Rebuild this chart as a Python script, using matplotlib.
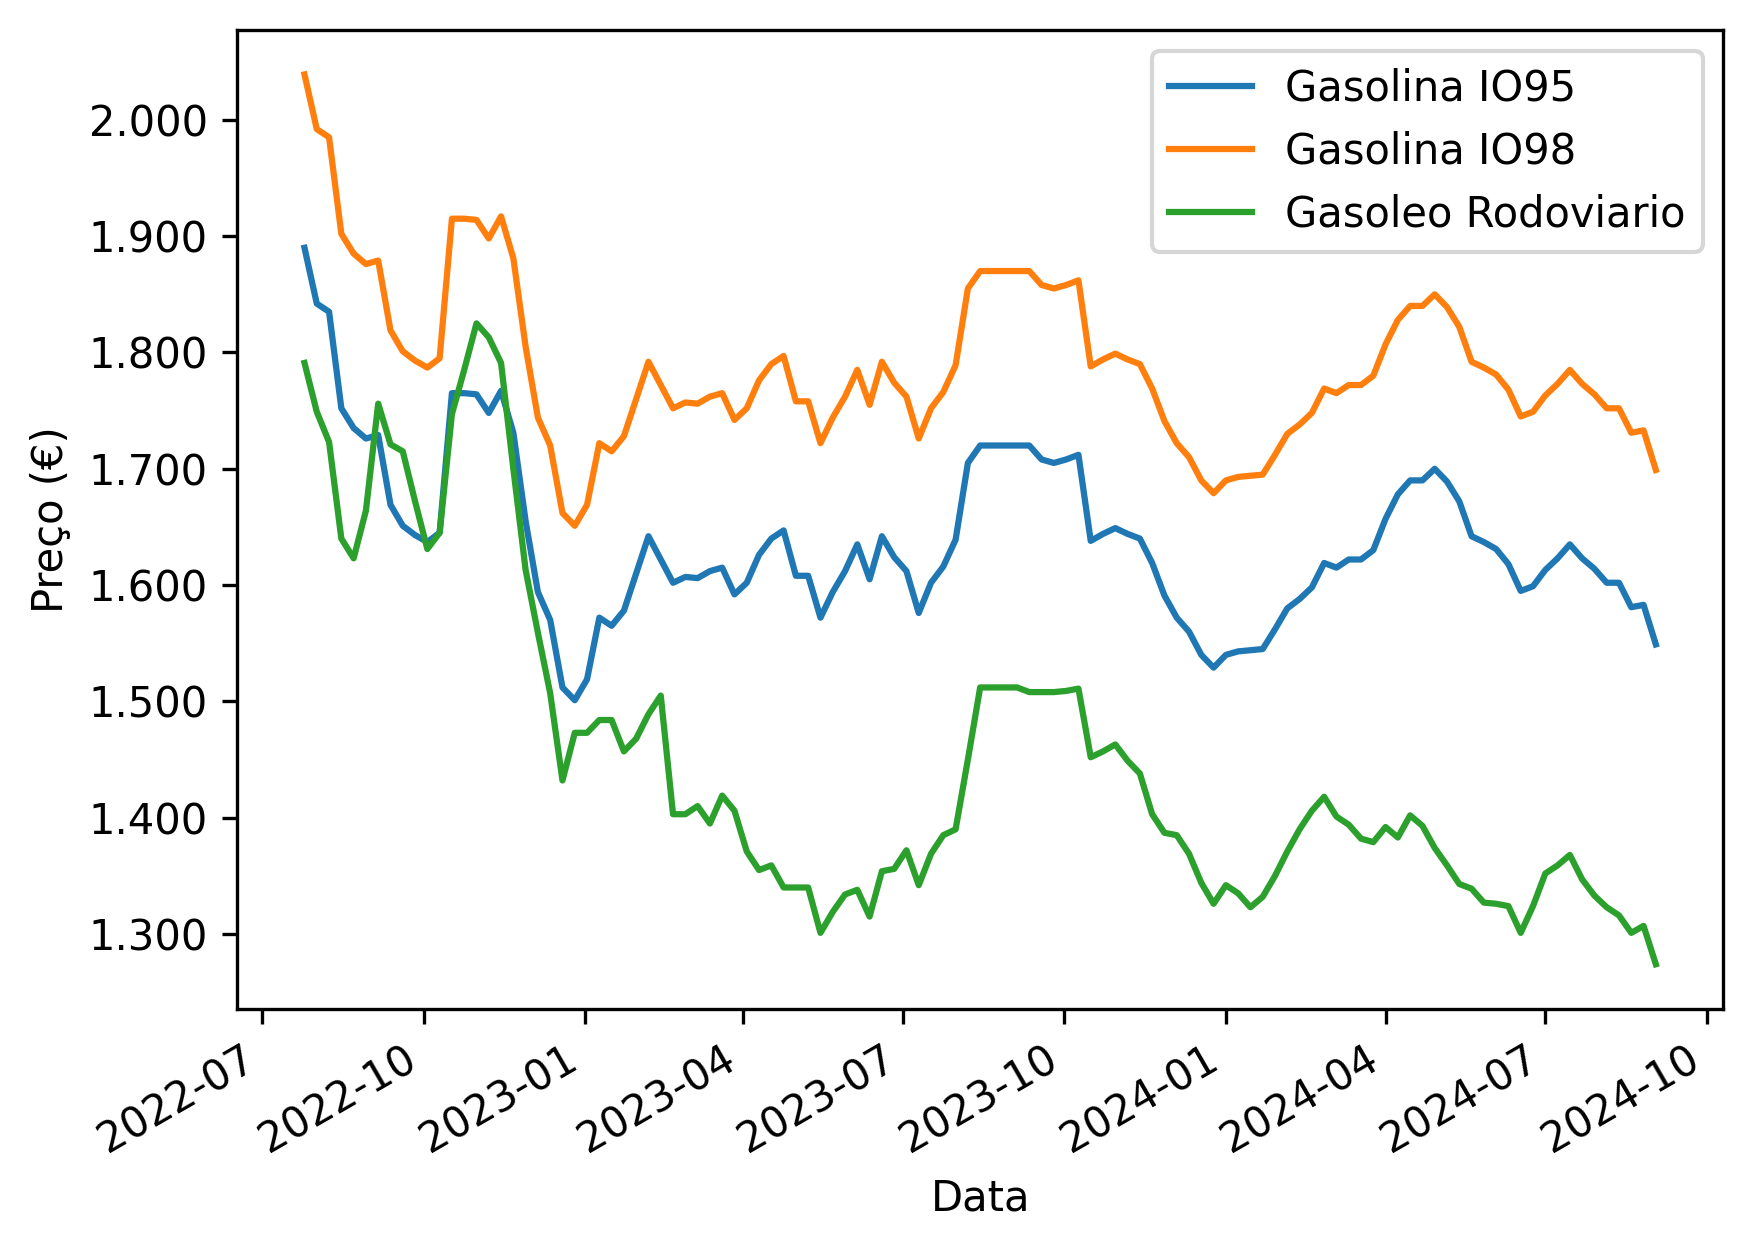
import matplotlib
matplotlib.use('Agg')
import matplotlib.pyplot as plt
import pandas as pd

# weekly prices (Mondays), 2022-07-25 .. 2024-09-02
datas = pd.date_range('2022-07-25', periods=111, freq='7D')

gasolina_95 = [
    1.890, 1.842, 1.835, 1.752, 1.735, 1.726, 1.729, 1.669, 1.651, 1.643,
    1.637, 1.645, 1.765, 1.765, 1.764, 1.748, 1.767, 1.731, 1.655, 1.594,
    1.570, 1.512, 1.501, 1.519, 1.572, 1.565, 1.578, 1.610, 1.642, 1.622,
    1.602, 1.607, 1.606, 1.612, 1.615, 1.592, 1.602, 1.626, 1.640, 1.647,
    1.608, 1.608, 1.572, 1.594, 1.612, 1.635, 1.605, 1.642, 1.624, 1.612,
    1.576, 1.602, 1.616, 1.639, 1.705, 1.720, 1.720, 1.720, 1.720, 1.720,
    1.708, 1.705, 1.708, 1.712, 1.638, 1.644, 1.649, 1.644, 1.640, 1.619,
    1.591, 1.572, 1.560, 1.540, 1.529, 1.540, 1.543, 1.544, 1.545, 1.562,
    1.580, 1.588, 1.598, 1.619, 1.615, 1.622, 1.622, 1.630, 1.657, 1.678,
    1.690, 1.690, 1.700, 1.689, 1.672, 1.642, 1.637, 1.631, 1.618, 1.595,
    1.599, 1.613, 1.623, 1.635, 1.623, 1.614, 1.602, 1.602, 1.581, 1.583,
    1.549,
]

gasolina_98 = [
    2.039, 1.992, 1.985, 1.902, 1.885, 1.876, 1.879, 1.819, 1.801, 1.793,
    1.787, 1.795, 1.915, 1.915, 1.914, 1.898, 1.917, 1.881, 1.805, 1.744,
    1.720, 1.662, 1.651, 1.669, 1.722, 1.715, 1.728, 1.760, 1.792, 1.772,
    1.752, 1.757, 1.756, 1.762, 1.765, 1.742, 1.752, 1.776, 1.790, 1.797,
    1.758, 1.758, 1.722, 1.744, 1.762, 1.785, 1.755, 1.792, 1.774, 1.762,
    1.726, 1.752, 1.766, 1.789, 1.855, 1.870, 1.870, 1.870, 1.870, 1.870,
    1.858, 1.855, 1.858, 1.862, 1.788, 1.794, 1.799, 1.794, 1.790, 1.769,
    1.741, 1.722, 1.710, 1.690, 1.679, 1.690, 1.693, 1.694, 1.695, 1.712,
    1.730, 1.738, 1.748, 1.769, 1.765, 1.772, 1.772, 1.780, 1.807, 1.828,
    1.840, 1.840, 1.850, 1.839, 1.822, 1.792, 1.787, 1.781, 1.768, 1.745,
    1.749, 1.763, 1.773, 1.785, 1.773, 1.764, 1.752, 1.752, 1.731, 1.733,
    1.699,
]

gasoleo = [
    1.791, 1.749, 1.723, 1.640, 1.623, 1.664, 1.756, 1.721, 1.715, 1.672,
    1.631, 1.645, 1.747, 1.785, 1.825, 1.813, 1.791, 1.700, 1.613, 1.559,
    1.507, 1.432, 1.473, 1.473, 1.484, 1.484, 1.457, 1.468, 1.489, 1.505,
    1.403, 1.403, 1.410, 1.395, 1.419, 1.406, 1.371, 1.355, 1.359, 1.340,
    1.340, 1.340, 1.301, 1.319, 1.334, 1.338, 1.315, 1.354, 1.356, 1.372,
    1.342, 1.369, 1.385, 1.390, 1.450, 1.512, 1.512, 1.512, 1.512, 1.508,
    1.508, 1.508, 1.509, 1.511, 1.452, 1.457, 1.463, 1.449, 1.438, 1.403,
    1.387, 1.385, 1.369, 1.344, 1.326, 1.342, 1.335, 1.323, 1.332, 1.350,
    1.371, 1.390, 1.406, 1.418, 1.401, 1.394, 1.382, 1.379, 1.392, 1.383,
    1.402, 1.393, 1.374, 1.359, 1.343, 1.339, 1.327, 1.326, 1.324, 1.301,
    1.324, 1.352, 1.359, 1.368, 1.347, 1.333, 1.323, 1.316, 1.301, 1.307,
    1.274,
]

fig, ax = plt.subplots(figsize=(5.85, 4.1667), dpi=300)

ax.plot(datas, gasolina_95, label='Gasolina IO95')
ax.plot(datas, gasolina_98, label='Gasolina IO98')
ax.plot(datas, gasoleo, label='Gasoleo Rodoviario')

ax.set_xlabel('Data')
ax.set_ylabel('Preço (€)')
ax.yaxis.set_major_formatter(matplotlib.ticker.FormatStrFormatter('%.3f'))
ax.legend()

fig.autofmt_xdate()
fig.subplots_adjust(left=0.135, right=0.982, top=0.976, bottom=0.193)

plt.savefig('out.png', dpi=300)
plt.close()
